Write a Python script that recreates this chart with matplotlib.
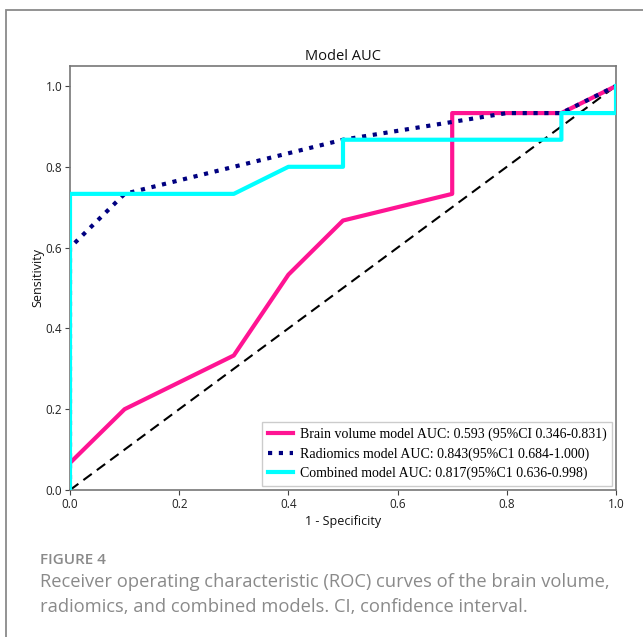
import matplotlib
matplotlib.use("Agg")
import matplotlib.pyplot as plt
from matplotlib.patches import Rectangle

# Data
brain_fpr = [0.0, 0.1, 0.3, 0.4, 0.5, 0.7, 0.7, 0.9, 1.0]
brain_tpr = [0.067, 0.2, 0.333, 0.533, 0.667, 0.733, 0.933, 0.933, 1.0]
radio_fpr = [0.0, 0.0, 0.1, 0.5, 0.8, 0.9, 1.0]
radio_tpr = [0.0, 0.6, 0.733, 0.867, 0.933, 0.933, 1.0]
comb_fpr = [0.0, 0.0, 0.3, 0.4, 0.5, 0.5, 0.9, 0.9, 1.0, 1.0]
comb_tpr = [0.0, 0.733, 0.733, 0.8, 0.8, 0.867, 0.867, 0.933, 0.933, 1.0]
labels = ["Brain volume model AUC: 0.593 (95%CI 0.346-0.831)",
          "Radiomics model AUC: 0.843(95%C1 0.684-1.000)",
          "Combined model AUC: 0.817(95%C1 0.636-0.998)"]
xticks = [0.0, 0.2, 0.4, 0.6, 0.8, 1.0]
yticks = [0.0, 0.2, 0.4, 0.6, 0.8, 1.0]

W, H = 643, 637
fig = plt.figure(figsize=(W / 100, H / 100), dpi=100)
fig.patch.set_facecolor("white")

# outer frame
fig.patches.append(Rectangle((6 / W, -0.2), 1.2, 1.2 - 10 / H, transform=fig.transFigure,
                             fill=False, edgecolor="#8a8a8a", lw=1.3, zorder=0))

ax = fig.add_axes([70 / W, 1 - 490 / H, (616 - 70) / W, (490 - 65.8) / H])
tick_font = "Open Sans"

ax.plot([0, 1], [0, 1], color="black", lw=1.5, ls=(0, (5, 3)), zorder=2)
ax.plot(brain_fpr, brain_tpr, color="#ff1493", lw=3, label=labels[0], zorder=3)
ax.plot(radio_fpr, radio_tpr, color="#000080", lw=3, ls=(0, (1, 1.6)), label=labels[1], zorder=4)
ax.plot(comb_fpr, comb_tpr, color="#00ffff", lw=3, label=labels[2], zorder=5)

ax.set_xlim(0, 1)
ax.set_ylim(0, 1.05)
ax.set_xticks(xticks)
ax.set_yticks(yticks)
ax.set_xticklabels([f"{v:.1f}" for v in xticks], fontfamily=tick_font, fontsize=8.5, color="#222222")
ax.set_yticklabels([f"{v:.1f}" for v in yticks], fontfamily=tick_font, fontsize=8.5, color="#222222")
ax.tick_params(length=3.5, width=0.8, color="#444444", pad=2)
for s in ax.spines.values():
    s.set_color("#777777")
    s.set_linewidth(1.2)

ax.set_title("Model AUC", fontfamily=tick_font, fontsize=10.5, color="#111111", pad=4)
ax.set_xlabel("1 - Specificity", fontfamily=tick_font, fontsize=9, color="#111111", labelpad=3)
ax.set_ylabel("Sensitivity", fontfamily=tick_font, fontsize=9, color="#111111", labelpad=1)

leg = ax.legend(loc="lower right", prop={"family": "Liberation Serif", "size": 10},
                handlelength=1.8, handletextpad=0.5, borderpad=0.4, labelspacing=0.45,
                fancybox=False, framealpha=1, edgecolor="#cccccc", borderaxespad=0.3)

fig.text(40 / W, 1 - 560 / H, "FIGURE 4", fontfamily="Open Sans", fontsize=11,
         fontweight="semibold", color="#8a8a8a", va="center", ha="left")
fig.text(40 / W, 1 - 582 / H, "Receiver operating characteristic (ROC) curves of the brain volume,",
         fontfamily="Open Sans", fontsize=13.2, color="#8a8a8a", va="center", ha="left")
fig.text(40 / W, 1 - 607 / H, "radiomics, and combined models. CI, confidence interval.",
         fontfamily="Open Sans", fontsize=13.2, color="#8a8a8a", va="center", ha="left")

fig.savefig("out.png", dpi=100, facecolor="white")
